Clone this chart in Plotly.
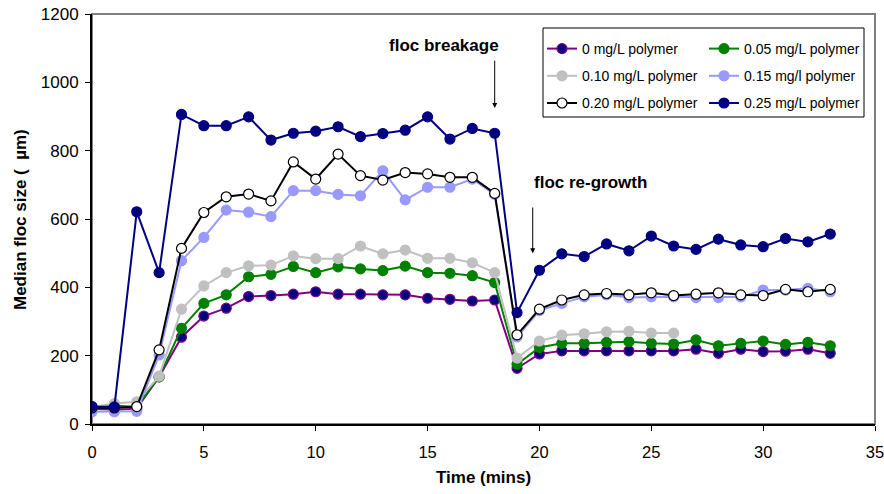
import plotly.graph_objects as go

time = list(range(34))

s0 = [45, 42, 45, 138, 254, 316, 339, 373, 376, 380, 387, 380, 380, 378, 378, 368, 365, 360, 363,
      163, 205, 214, 214, 214, 214, 214, 214, 219, 207, 219, 212, 213, 219, 207]
s005 = [50, 54, 50, 138, 280, 353, 378, 431, 438, 461, 443, 460, 454, 449, 462, 443, 441, 434, 414,
        175, 224, 236, 236, 239, 241, 236, 234, 246, 229, 236, 243, 233, 239, 229]
s010 = [50, 60, 65, 140, 336, 404, 443, 463, 465, 492, 484, 484, 521, 498, 509, 485, 485, 472, 443,
        193, 243, 260, 264, 270, 271, 266, 266]
s015 = [36, 36, 37, 202, 478, 546, 626, 620, 607, 683, 683, 672, 668, 741, 656, 693, 693, 717, 672,
        255, 332, 353, 372, 378, 370, 372, 372, 370, 370, 372, 392, 392, 397, 387]
s020 = [47, 47, 51, 217, 514, 619, 665, 673, 653, 767, 717, 790, 727, 714, 736, 732, 722, 722, 675,
        261, 336, 363, 378, 382, 378, 384, 376, 380, 384, 378, 376, 394, 387, 394]
s025 = [51, 50, 621, 443, 906, 873, 873, 899, 831, 851, 857, 870, 841, 850, 860, 899, 834, 865, 851,
        326, 450, 498, 490, 527, 507, 550, 521, 511, 541, 524, 519, 543, 533, 556]

names = ["0 mg/L polymer", "0.05 mg/L polymer", "0.10 mg/L polymer",
         "0.15 mg/l polymer", "0.20 mg/L polymer", "0.25 mg/L polymer"]
series = [s0, s005, s010, s015, s020, s025]
line_colors = ["#800080", "#008000", "#C0C0C0", "#9999FF", "#000000", "#000080"]
fill_colors = ["#000080", "#008000", "#C0C0C0", "#9999FF", "#FFFFFF", "#000080"]
edge_colors = ["#800080", "#008000", "#C0C0C0", "#9999FF", "#000000", "#000080"]
legends = ["legend", "legend2", "legend", "legend2", "legend", "legend2"]

FONT = "Liberation Sans, Arial, sans-serif"

fig = go.Figure()
for i, (nm, ys) in enumerate(zip(names, series)):
    fig.add_trace(go.Scatter(
        x=time[:len(ys)], y=ys, name=nm, mode="lines+markers",
        line=dict(color=line_colors[i], width=2),
        marker=dict(size=10, color=fill_colors[i],
                    line=dict(color=edge_colors[i], width=1.2)),
        legend=legends[i], legendgroup=nm,
    ))

W, H = 884, 494
ml, mr, mt, mb = 92, 9, 14, 70
pw = W - ml - mr
ph = H - mt - mb


def px(xp):
    return (xp - ml) / pw


def py(yp):
    return 1 - (yp - mt) / ph


leg_common = dict(bgcolor="rgba(0,0,0,0)", borderwidth=0, tracegroupgap=6,
                  font=dict(family=FONT, size=14, color="#000000"),
                  xanchor="left", yanchor="top", orientation="v")

fig.update_layout(
    width=W, height=H,
    margin=dict(l=ml, r=mr, t=mt, b=mb, autoexpand=False),
    paper_bgcolor="white", plot_bgcolor="white",
    font=dict(family=FONT, size=16, color="#000000"),
    legend=dict(x=px(542), y=py(33), **leg_common),
    legend2=dict(x=px(704), y=py(33), **leg_common),
    xaxis=dict(range=[0, 35], tick0=0, dtick=5, showgrid=False, zeroline=False,
               showline=True, linecolor="#000000", linewidth=2,
               ticks="outside", ticklen=5, tickwidth=1, tickcolor="#000000",
               ticklabelstandoff=7, ticklabeloverflow="allow",
               tickfont=dict(family=FONT, size=16.5), automargin=False),
    yaxis=dict(range=[0, 1200], tick0=0, dtick=200, showgrid=False, zeroline=False,
               showline=True, linecolor="#000000", linewidth=2,
               ticks="outside", ticklen=5, tickwidth=1, tickcolor="#000000",
               ticklabelstandoff=3, ticklabeloverflow="allow",
               tickfont=dict(family=FONT, size=17), automargin=False),
    showlegend=True,
)

# plot area border (top / right)
fig.add_shape(type="rect", xref="paper", yref="paper", x0=0, x1=1, y0=0, y1=1,
              line=dict(color="#808080", width=2), layer="below")
# legend box
fig.add_shape(type="rect", xref="paper", yref="paper",
              x0=px(543), x1=px(864), y0=py(117), y1=py(28),
              line=dict(color="#000000", width=1), fillcolor="rgba(0,0,0,0)")

# axis titles
fig.add_annotation(xref="paper", yref="paper", x=0.5, y=py(478), text="<b>Time (mins)</b>",
                   showarrow=False, font=dict(family=FONT, size=17), yanchor="middle")
fig.add_annotation(xref="paper", yref="paper", x=px(20), y=py(220),
                   text="<b>Median floc size (  µm)</b>", textangle=-90,
                   showarrow=False, font=dict(family=FONT, size=17), xanchor="center")

# text annotations
fig.add_annotation(x=15.73, y=1109, text="<b>floc breakage</b>", showarrow=False,
                   font=dict(family=FONT, size=17))
fig.add_annotation(x=22.28, y=708, text="<b>floc re-growth</b>", showarrow=False,
                   font=dict(family=FONT, size=17))
# arrows
fig.add_annotation(x=18, y=925, ax=18, ay=1068, axref="x", ayref="y", text="",
                   showarrow=True, arrowhead=2, arrowsize=1, arrowwidth=1, arrowcolor="#000000")
fig.add_annotation(x=19.7, y=500, ax=19.7, ay=638, axref="x", ayref="y", text="",
                   showarrow=True, arrowhead=2, arrowsize=1, arrowwidth=1, arrowcolor="#000000")

fig.write_html("out.html")
